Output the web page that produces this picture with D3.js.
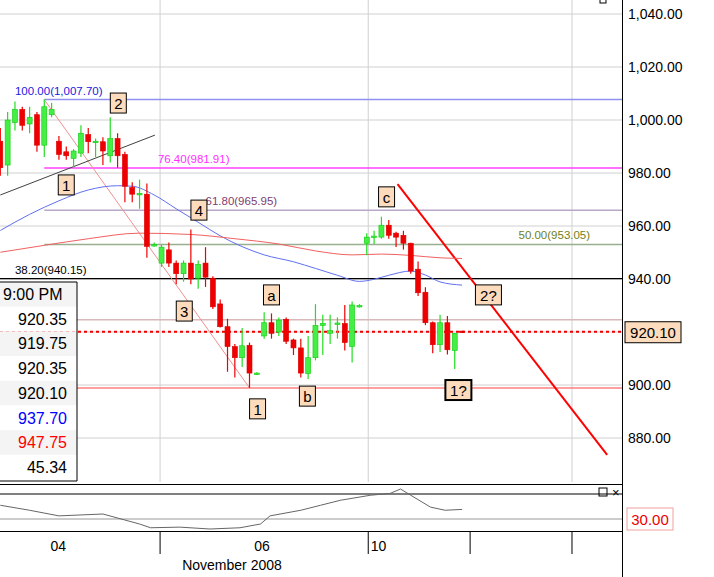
<!DOCTYPE html>
<html><head><meta charset="utf-8">
<script src="https://cdn.jsdelivr.net/npm/d3@7"></script>
<style>body{margin:0;background:#fff}svg{font-family:"Liberation Sans",Arial,sans-serif}</style>
</head><body><div id="chart"></div>
<script>
// ---- data: hourly bars [open, high, low, close]
let bars=[[992,997,979,982],[983,1003,979,1000],[999,1007,996,1004],[1004,1005,996,998],[998.5,1005,995,1001],
[1002,1003,988,990.5],[990.5,1007.7,986,1005],[1002,1006.5,1001,1004],[992,994,985,987],[988,990,985,986.5],
[985.5,989,982,988.3],[987.5,998,986,995],[994.5,997,987.5,991.8],[991.6,993,986,992],[991.8,993.5,983,988.3],
[986.5,1001,984,993],[993,995,982,986.5],[987,988,969,975],[974.5,976.5,969,972],[972,977.5,966.5,972.3],
[972,976,948,952.3],[952.7,953.8,952.2,953],[946,953,944.5,952],[951,953.8,944.5,946],[946,947,938,942],
[942,947,939,946],[946,958.7,938,940],[940.3,947,936.3,945.5],[946,952,937,940.7],[940.3,941,928.7,929.5],
[930.6,932.3,921.7,922],[922,925,905,914.5],[914.5,915.5,902.8,910.3],[910.3,921.5,906.8,914.8],[915,916,898.9,904.5],
[904.3,904.8,903.8,904.5],[918.5,927.5,917.5,923.5],[923.5,927,917.5,919.5],[920,925.5,918.5,924.5],[924.8,925.5,915.5,916.5],
[917,917.5,911.3,914],[914,917.5,902.8,904.5],[904.3,918.5,902.3,910.3],[910.3,930.5,909.3,922.5],[922.5,926.5,911.3,923.2],
[919.5,926.5,915.5,920.5],[923,925.5,917.5,923.4],[923.2,930.2,913,916],[914.5,931.5,908.5,930.2],[929.7,930.5,929.2,930],
[953.5,957.3,949,955.8],[955.7,958.2,953.2,956.2],[955.8,963.5,955.2,960.3],[960.3,962.3,955.2,956.5],[957.3,957.8,952.1,955.8],
[956.5,958.2,951.1,953.5],[953.5,953.7,942,943],[943.7,946.6,933.6,934.8],[935,936.9,922.6,923.5],[923.5,924,912,915.2],
[915.2,926.5,912.5,923.5],[923.5,926,911.5,913.3],[913,919.5,906,919.5],[920.35,920.35,919.75,920.10]];
let maBlue=[[0,958.3],[4,964.4],[8,969.5],[12,973.6],[16,975.2],[18,975],[21,971.7],[24,966.5],[27,961.4],[30,956.3],
[33,952.2],[36,949.1],[40,946.5],[43,944],[46,941.4],[49,939.1],[51,939.9],[53,941.4],[56,943],[58,941.5],[60,938.9],[63,937.7]];
let maRed=[[0,950.1],[6,952.7],[12,955.2],[19,957.3],[26,956.8],[32,955.2],[38,953.2],[43,950.6],[48,949.1],[52,949.4],
[56,948.9],[60,948],[63,947.75]];
let rsi=[[0,52],[4,44],[8,35],[14,38],[19,22],[20.5,16],[24.5,17],[28.6,14],[32.7,16],[35.5,22],[36.8,35],[41,44],[43.7,52],
[46.4,60],[50.5,68],[53.2,71],[54.6,78],[56,68],[58.7,49],[60.7,44],[63,45.34]];
let fibs=[{v:1007.70,t:"100.00(1,007.70)",line:"#9090f0",txt:"#2020e0",tx:2},
{v:981.91,t:"76.40(981.91)",line:"#ff40ff",txt:"#ff30ff",tx:21.5},
{v:965.95,t:"61.80(965.95)",line:"#b8a8c8",txt:"#804070",tx:28},
{v:953.05,t:"50.00(953.05)",line:"#98b090",txt:"#708020",tx:70.7},
{v:940.15,t:"38.20(940.15)",line:"#000",txt:"#000",tx:2},
{v:924.65,t:"23.60(924.65)",line:"#d8b8b8",txt:"#d09090",tx:-1.2},
{v:898.90,t:"",line:"#ff8080",txt:"#f00",tx:2}];
let waves=[["1",9,975.5],["2",16.1,1006.4],["3",25.1,927.9],["4",27.1,966],["1",35.1,891],["a",37,934],
["b",41.9,895.8],["c",52.7,971],["2?",66.6,934],["1?",62.5,898.1]];
let yTicks=[880,900,940,960,980,1000,1020,1040];
let days=[["04",7.9],["06",35.7],["10",51.6]];
let dayBreaks=[21.8,50.2,64.1,78];
let infoRows=[["9:00 PM","#000"],["920.35","#000"],["919.75","#000"],["920.35","#000"],["920.10","#000"],["937.70","#00f"],["947.75","#f00"],["45.34","#000"]];
let last=920.10;

const W=714,H=577,PR=622;
let svg=d3.select("#chart").append("svg").attr("width",W).attr("height",H);
let x=d3.scaleLinear().domain([0,85]).range([0.3,623.3]);
let y=d3.scaleLinear().domain([880,1040]).range([438,14]);
let yr=d3.scaleLinear().domain([30,70]).range([519,494]);

let main=svg.append("g");
main.append("defs").append("clipPath").attr("id","cp").append("rect").attr("width",PR).attr("height",482);
let plot=main.append("g").attr("clip-path","url(#cp)");

// grid
plot.selectAll(".hg").data(d3.range(880,1041,20)).enter().append("line")
 .attr("x1",0).attr("x2",PR).attr("y1",d=>y(d)).attr("y2",d=>y(d)).attr("stroke","#d0d0d0");
plot.selectAll(".vg").data([21.8,50.2,78]).enter().append("line")
 .attr("x1",d=>x(d)).attr("x2",d=>x(d)).attr("y1",0).attr("y2",482).attr("stroke","#d0d0d0");

// fib lines
fibs.forEach(f=>{
 plot.append("line").attr("x1",f.v==940.15?0:x(6)).attr("x2",PR).attr("y1",y(f.v)).attr("y2",y(f.v))
  .attr("stroke",f.line).attr("stroke-width",f.v==940.15?1.2:1.5);
 plot.append("text").attr("x",x(f.tx)).attr("y",y(f.v)-5).attr("fill",f.txt).attr("font-size",11.5).text(f.t);
});
plot.append("line").attr("x1",0).attr("x2",PR).attr("y1",y(last)).attr("y2",y(last))
 .attr("stroke","#e00").attr("stroke-width",2).attr("stroke-dasharray","3,3");

// trend lines
plot.append("line").attr("x1",x(6)).attr("y1",y(1007.7)).attr("x2",x(34)).attr("y2",y(898.9)).attr("stroke","#f09090");
plot.append("line").attr("x1",x(0)).attr("y1",y(971.7)).attr("x2",x(21.1)).attr("y2",y(994.3)).attr("stroke","#404040");
plot.append("line").attr("x1",x(54.2)).attr("y1",y(975.8)).attr("x2",x(82.8)).attr("y2",y(873.6)).attr("stroke","#f00").attr("stroke-width",2);

// moving averages
let ln=d3.line().x(d=>x(d[0])).y(d=>y(d[1])).curve(d3.curveMonotoneX);
plot.append("path").attr("d",ln(maBlue)).attr("fill","none").attr("stroke","#6070f0");
plot.append("path").attr("d",ln(maRed)).attr("fill","none").attr("stroke","#f06060");

// candles
let c=plot.selectAll(".c").data(bars).enter().append("g");
c.append("line").attr("x1",(d,i)=>x(i)).attr("x2",(d,i)=>x(i)).attr("y1",d=>y(d[1])).attr("y2",d=>y(d[2]))
 .attr("stroke",d=>d[3]>=d[0]?"#22dd22":"#ee0000").attr("stroke-width",1.2);
c.append("rect").attr("x",(d,i)=>x(i)-2.5).attr("width",5)
 .attr("y",d=>y(Math.max(d[0],d[3]))).attr("height",d=>Math.max(1.5,Math.abs(y(d[0])-y(d[3]))))
 .attr("fill",d=>d[3]>=d[0]?"#44ee44":"#ee0000").attr("stroke",d=>d[3]>=d[0]?"#11cc11":"#dd0000").attr("stroke-width",0.6);

// wave labels
waves.forEach(w=>{
 let g=plot.append("g").attr("transform","translate("+x(w[1])+","+y(w[2])+")");
 let bw=w[0].length>1?26:16;
 g.append("rect").attr("x",-bw/2).attr("y",-10).attr("width",bw).attr("height",20).attr("fill","#fcdcbc")
  .attr("stroke","#000").attr("stroke-width",w[0]=="1?"?2:1);
 g.append("text").attr("y",6).attr("text-anchor","middle").attr("font-size",15).text(w[0]);
});

// info box
let ib=svg.append("g");
infoRows.forEach((r,i)=>{
 ib.append("rect").attr("x",0).attr("y",282+i*24.7).attr("width",77).attr("height",24.7).attr("fill",i%2==0?"#f4f4f4":"#fff");
 ib.append("text").attr("x",i==0?3:67).attr("y",300+i*24.7).attr("text-anchor",i==0?"start":"end")
  .attr("font-size",16).attr("fill",r[1]).text(r[0]);
});
ib.append("path").attr("d","M0,282H77V481H0").attr("fill","none").attr("stroke","#000");

// right axis
let ax=svg.append("g").attr("transform","translate("+PR+",0)")
 .call(d3.axisRight(y).tickValues(yTicks).tickSize(0).tickPadding(6).tickFormat(d3.format(",.2f")));
ax.select(".domain").remove();
ax.selectAll("text").attr("font-size",14).attr("font-family","Liberation Sans, Arial");
svg.append("line").attr("x1",PR+0.5).attr("x2",PR+0.5).attr("y1",0).attr("y2",H).attr("stroke","#000");
svg.append("rect").attr("x",600).attr("y",-3).attr("width",6).attr("height",6).attr("fill","none").attr("stroke","#000");
let pb=svg.append("g").attr("transform","translate(625,"+(y(last)-10)+")");
pb.append("rect").attr("width",56).attr("height",21).attr("fill","#fcdcbc").attr("stroke","#000");
pb.append("text").attr("x",28).attr("y",16).attr("text-anchor","middle").attr("font-size",15).text("920.10");

// indicator pane
svg.append("line").attr("x1",0).attr("x2",PR).attr("y1",484.5).attr("y2",484.5).attr("stroke","#000");
svg.append("line").attr("x1",0).attr("x2",PR).attr("y1",yr(70)).attr("y2",yr(70)).attr("stroke","#000");
svg.append("line").attr("x1",0).attr("x2",PR).attr("y1",yr(30)).attr("y2",yr(30)).attr("stroke","#999");
svg.append("path").attr("d",d3.line().x(d=>x(d[0])).y(d=>yr(d[1]))(rsi)).attr("fill","none").attr("stroke","#666");
svg.append("rect").attr("x",599).attr("y",488).attr("width",8).attr("height",8).attr("fill","none").attr("stroke","#000");
svg.append("text").attr("x",612).attr("y",497).attr("font-size",13).text("×");
let rb=svg.append("g").attr("transform","translate(627,"+(yr(30)-11)+")");
rb.append("rect").attr("width",46).attr("height",22).attr("fill","#fff").attr("stroke","#f0a0a0");
rb.append("text").attr("x",23).attr("y",17).attr("text-anchor","middle").attr("font-size",15).attr("fill","#e00").text("30.00");

// bottom axis
svg.append("line").attr("x1",0).attr("x2",PR).attr("y1",531.5).attr("y2",531.5).attr("stroke","#000");
svg.selectAll(".db").data(dayBreaks).enter().append("line").attr("x1",d=>x(d)).attr("x2",d=>x(d))
 .attr("y1",531).attr("y2",554).attr("stroke","#000");
svg.selectAll(".dl").data(days).enter().append("text").attr("x",d=>x(d[1])).attr("y",551)
 .attr("text-anchor","middle").attr("font-size",14).text(d=>d[0]);
svg.append("text").attr("x",232).attr("y",570).attr("text-anchor","middle").attr("font-size",14).text("November 2008");
</script></body></html>
